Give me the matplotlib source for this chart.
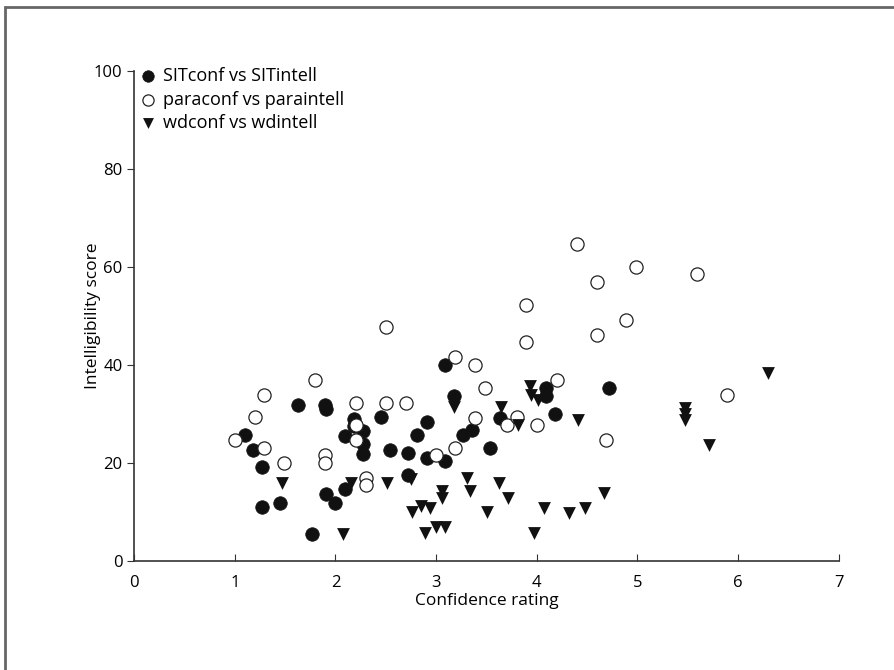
from matplotlib import pyplot as plt
from matplotlib.patches import Rectangle

plt.rcParams['font.family'] = ['Open Sans', 'DejaVu Sans']

# SITconf vs SITintell (filled circles)
sit_x = [1.10, 1.18, 1.27, 1.27, 1.45, 1.63, 1.77, 1.90, 1.91, 1.91, 2.00, 2.09,
         2.09, 2.18, 2.18, 2.27, 2.27, 2.27, 2.45, 2.54, 2.72, 2.72, 2.81, 2.91,
         2.91, 3.09, 3.09, 3.18, 3.27, 3.36, 3.54, 3.63, 4.09, 4.09, 4.18, 4.72]
sit_y = [25.6, 22.7, 19.1, 10.9, 11.9, 31.9, 5.4, 31.9, 30.9, 13.7, 11.9, 25.4,
         14.6, 29.0, 27.5, 26.4, 23.8, 21.9, 29.4, 22.7, 22.0, 17.5, 25.6, 28.3,
         21.0, 40.0, 20.3, 33.6, 25.6, 26.7, 23.1, 29.2, 35.3, 33.6, 30.0, 35.3]

# paraconf vs paraintell (open circles)
para_x = [1.00, 1.20, 1.29, 1.29, 1.49, 1.80, 1.90, 1.90, 2.20, 2.20, 2.20, 2.30,
          2.30, 2.50, 2.50, 2.70, 3.00, 3.19, 3.19, 3.39, 3.39, 3.49, 3.70, 3.80,
          3.89, 3.89, 4.00, 4.20, 4.40, 4.60, 4.60, 4.69, 4.89, 4.99, 5.59, 5.89]
para_y = [24.6, 29.4, 33.8, 23.1, 20.0, 37.0, 21.6, 20.0, 32.3, 27.7, 24.6, 17.0,
          15.4, 47.7, 32.3, 32.3, 21.6, 41.6, 23.1, 40.0, 29.2, 35.3, 27.7, 29.4,
          52.2, 44.6, 27.7, 37.0, 64.6, 57.0, 46.2, 24.6, 49.2, 60.0, 58.5, 33.8]

# wdconf vs wdintell (triangles)
wd_x = [1.47, 2.07, 2.15, 2.51, 2.75, 2.76, 2.85, 2.94, 2.89, 3.00, 3.09, 3.06,
        3.06, 3.18, 3.31, 3.34, 3.51, 3.62, 3.64, 3.71, 3.81, 3.93, 3.94, 4.01,
        3.97, 4.07, 4.32, 4.41, 4.48, 4.67, 5.47, 5.47, 5.47, 5.71, 6.30]
wd_y = [15.9, 5.5, 15.9, 15.9, 16.6, 10.0, 11.2, 10.7, 5.6, 6.9, 6.9, 14.2,
        12.8, 31.3, 17.0, 14.2, 10.0, 15.9, 31.3, 12.8, 27.8, 35.6, 33.8, 32.9,
        5.6, 10.7, 9.7, 28.8, 10.7, 13.8, 31.1, 30.0, 28.8, 23.7, 38.3]

fig = plt.figure(figsize=(8.95, 6.7), dpi=100)
ax = fig.add_axes([0.150, 0.163, 0.787, 0.731])

# thin gray frame (only top and left visible in the original crop)
fig.patches.append(Rectangle((5 / 895, -0.2), 1.2, 1.2 - 7 / 670,
                             transform=fig.transFigure, fill=False,
                             edgecolor='#666666', linewidth=2))

ax.scatter(sit_x, sit_y, s=95, marker='o', color='#111111', edgecolors='#111111',
           linewidths=0.5, label='SITconf vs SITintell', zorder=3)
ax.scatter(para_x, para_y, s=90, marker='o', facecolors='white', edgecolors='#222222',
           linewidths=0.9, label='paraconf vs paraintell', zorder=3)
ax.scatter(wd_x, wd_y, s=85, marker='v', color='#111111', linewidths=0,
           label='wdconf vs wdintell', zorder=3)

ax.set_xlim(0, 7)
ax.set_ylim(0, 100)
ax.set_xticks(range(0, 8))
ax.set_yticks(range(0, 101, 20))
ax.tick_params(axis='x', direction='in', length=5, labelsize=12, pad=10, color='#333333')
ax.tick_params(axis='y', direction='out', length=5, labelsize=12, color='#333333')
for side in ['top', 'right']:
    ax.spines[side].set_visible(False)
for side in ['left', 'bottom']:
    ax.spines[side].set_color('#333333')
    ax.spines[side].set_linewidth(1.2)

ax.set_xlabel('Confidence rating', fontsize=12.5, labelpad=2)
ax.set_ylabel('Intelligibility score', fontsize=12.5, labelpad=-5)

leg = ax.legend(loc='upper left', bbox_to_anchor=(-0.012, 1.03), frameon=False,
                fontsize=13, handletextpad=0.15, labelspacing=0.3,
                borderaxespad=0.2, markerscale=0.85, handlelength=1.3)

fig.savefig('out.png', dpi=100, facecolor='white')
